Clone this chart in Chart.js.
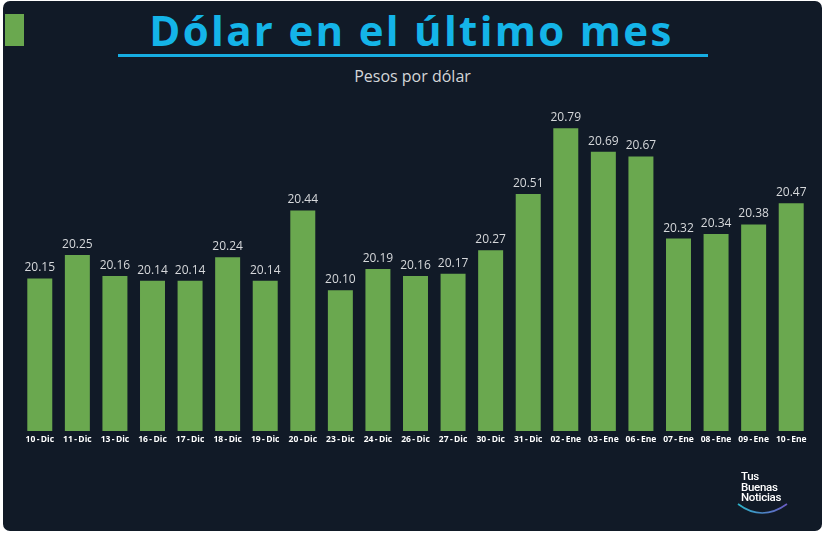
<!DOCTYPE html>
<html>
<head>
<meta charset="utf-8">
<script src="https://cdn.jsdelivr.net/npm/chart.js@4.4.1/dist/chart.umd.min.js"></script>
<style>
  html, body { margin:0; padding:0; background:#ffffff; }
  body { width:825px; height:534px; position:relative; overflow:hidden; font-family:"Open Sans", sans-serif; }
  #card { position:absolute; left:3px; top:1px; width:819px; height:530px; background:#111a27; border-radius:7px; }
  #sq { position:absolute; left:5px; top:14px; width:19px; height:32px; background:#6aa84f; }
  #title { position:absolute; left:-1px; width:825px; top:2px; text-align:center; color:#14b4e8; font-weight:700; font-size:42px; letter-spacing:2.3px; line-height:56px; }
  #uline { position:absolute; left:118px; top:54px; width:590px; height:3px; background:#16ade2; }
  #sub { position:absolute; left:0; width:825px; top:66px; text-align:center; color:#d4d6d9; font-size:16px; line-height:20px; }
  #logo { position:absolute; left:741px; top:471px; color:#ffffff; font-family:Roboto, sans-serif; font-weight:500; font-size:11.5px; line-height:10.5px; letter-spacing:-0.3px; }
  #arc { position:absolute; left:736px; top:501px; }
  #c { position:absolute; left:0; top:0; }
</style>
</head>
<body>
<div id="card"></div>
<div id="sq"></div>
<div id="title">Dólar en el último mes</div>
<div id="uline"></div>
<div id="sub">Pesos por dólar</div>
<canvas id="c" width="825" height="534"></canvas>
<div id="logo">Tus<br>Buenas<br>Noticias</div>
<svg id="arc" width="54" height="18">
  <defs><linearGradient id="g" x1="0" x2="1"><stop offset="0" stop-color="#2bb3c8"/><stop offset="1" stop-color="#6b5bc4"/></linearGradient></defs>
  <path d="M2 3 Q 26 21 51 3" stroke="url(#g)" stroke-width="1.6" fill="none"/>
</svg>
<script>
const categories = ["10 - Dic","11 - Dic","13 - Dic","16 - Dic","17 - Dic","18 - Dic","19 - Dic","20 - Dic","23 - Dic","24 - Dic","26 - Dic","27 - Dic","30 - Dic","31 - Dic","02 - Ene","03 - Ene","06 - Ene","07 - Ene","08 - Ene","09 - Ene","10 - Ene"];
const values = [20.15,20.25,20.16,20.14,20.14,20.24,20.14,20.44,20.10,20.19,20.16,20.17,20.27,20.51,20.79,20.69,20.67,20.32,20.34,20.38,20.47];
const yMin = 19.5;
const yMax = 21.0;

const labelPlugin = {
  id: 'barLabels',
  afterDatasetsDraw(chart) {
    const ctx = chart.ctx;
    const meta = chart.getDatasetMeta(0);
    ctx.save();
    ctx.font = '12px "Open Sans"';
    ctx.fillStyle = '#d6d8db';
    ctx.textAlign = 'center';
    ctx.textBaseline = 'alphabetic';
    meta.data.forEach((bar, i) => {
      ctx.fillText(values[i].toFixed(2), bar.x, bar.y - 7);
    });
    ctx.restore();
  }
};

new Chart(document.getElementById('c'), {
  type: 'bar',
  data: {
    labels: categories,
    datasets: [{
      data: values,
      backgroundColor: '#6aa84f',
      borderWidth: 0,
      barPercentage: 0.665,
      categoryPercentage: 1.0
    }]
  },
  options: {
    responsive: false,
    animation: false,
    layout: { padding: { top: 79, left: 21, right: 15, bottom: 83 } },
    plugins: { legend: { display: false }, tooltip: { enabled: false } },
    scales: {
      y: { display: false, min: yMin, max: yMax },
      x: {
        grid: { display: false, drawTicks: false },
        border: { display: false },
        ticks: {
          color: '#ffffff',
          font: { family: 'Open Sans', size: 8.5, weight: 'bold' },
          padding: 3, maxRotation: 0, autoSkip: false,
          callback(value) { return categories[value].replace(/ /g, '\u2009'); }
        },
        afterFit(scale) { scale.height = 20; }
      }
    }
  },
  plugins: [labelPlugin]
});
</script>
</body>
</html>
